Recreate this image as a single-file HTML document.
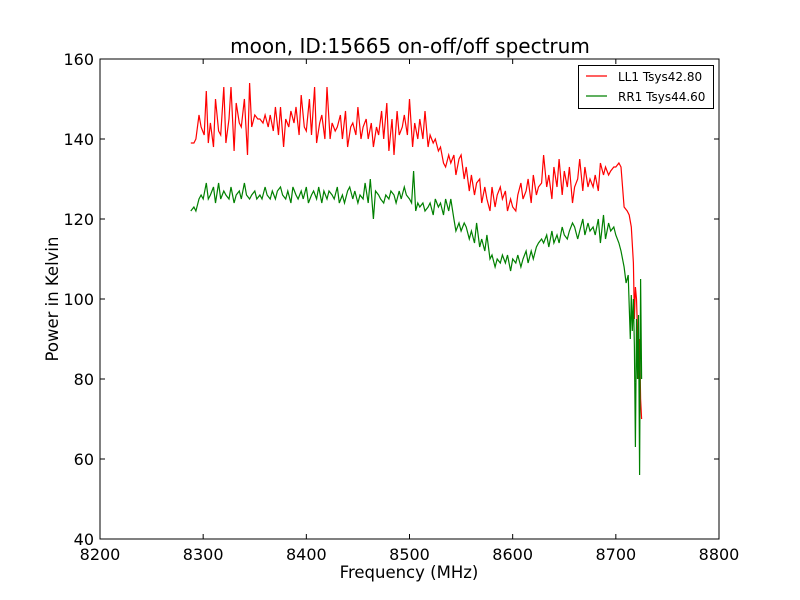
<!DOCTYPE html>
<html><head><meta charset="utf-8"><style>
body{margin:0;background:#fff;}
svg{display:block;font-family:"DejaVu Sans","Liberation Sans",sans-serif;}
</style></head><body>
<svg id="chart" width="800" height="600">
<rect width="800" height="600" fill="#fff"/>
<text x="410" y="53" font-size="20" text-anchor="middle">moon, ID:15665 on-off/off spectrum</text>
<text x="409" y="578" font-size="16.5" text-anchor="middle">Frequency (MHz)</text>
<text transform="translate(58,299) rotate(-90)" font-size="16.5" text-anchor="middle">Power in Kelvin</text>
<g id="ticks"></g>
<g id="series"></g>
<rect x="100" y="59" width="619" height="480" fill="none" stroke="#000" stroke-width="1"/>
<g>
<rect x="578.5" y="65.5" width="135" height="43" fill="#fff" stroke="#000"/>
<line x1="586" y1="76" x2="607" y2="76" stroke="red" stroke-width="1.2"/>
<text x="618" y="81" font-size="12">LL1 Tsys42.80</text>
<line x1="586" y1="96" x2="607" y2="96" stroke="green" stroke-width="1.2"/>
<text x="618" y="101" font-size="12">RR1 Tsys44.60</text>
</g>
</svg>
<script>
const xTicks=[8200,8300,8400,8500,8600,8700,8800];
const yTicks=[40,60,80,100,120,140,160];
const redFreq=[8288,8291,8293,8296,8298,8301,8303,8305,8307,8310,8312,8315,8317,8320,8322,8325,8327,8330,8332,8335,8337,8340,8343,8345,8347,8350,8353,8355,8358,8360,8363,8365,8368,8370,8373,8375,8378,8380,8383,8385,8388,8390,8393,8395,8398,8400,8403,8405,8408,8410,8413,8415,8418,8420,8423,8425,8428,8430,8433,8435,8438,8440,8443,8445,8448,8450,8453,8455,8458,8460,8463,8465,8468,8470,8473,8475,8478,8480,8483,8485,8488,8490,8493,8495,8498,8500,8503,8505,8508,8510,8513,8515,8518,8520,8523,8525,8528,8530,8533,8535,8538,8540,8543,8545,8548,8550,8553,8555,8558,8560,8563,8565,8568,8570,8573,8575,8578,8580,8583,8585,8588,8590,8593,8595,8598,8600,8603,8605,8608,8610,8613,8615,8618,8620,8623,8625,8628,8630,8633,8635,8638,8640,8643,8645,8648,8650,8653,8655,8658,8660,8663,8665,8668,8670,8673,8675,8678,8680,8683,8685,8688,8690,8693,8695,8698,8700,8703,8705,8708,8711,8713,8715,8717,8718,8719,8720,8721,8722,8723,8724,8725];
const redVals=[139,139,140,146,143,141,152,139,144,138,150,142,141,153,139,145,153,137,149,144,143,150,136,154,143,146,145,145,144,146,143,146,142,148,141,148,138,145,143,147,144,148,141,151,143,142,150,141,153,139,144,146,140,153,140,144,142,143,146,140,147,138,143,144,141,148,140,143,145,140,144,138,143,141,147,140,149,137,145,136,147,141,143,146,141,150,138,144,140,145,140,147,138,141,139,140,137,138,134,133,136,134,136,131,135,136,130,133,127,131,126,129,130,124,128,125,122,128,123,126,128,125,127,122,125,123,122,126,129,125,127,130,124,131,126,128,129,136,128,131,125,133,128,135,126,132,128,133,124,128,130,135,127,133,128,130,128,131,127,134,131,133,131,132,133,133,134,133,123,122,121,118,109,95,103,100,92,80,90,75,70];
const greenFreq=[8288,8291,8293,8296,8298,8300,8303,8305,8307,8310,8312,8315,8317,8320,8322,8325,8327,8330,8332,8335,8337,8340,8342,8345,8347,8350,8352,8355,8357,8360,8362,8365,8367,8370,8372,8375,8377,8380,8382,8385,8387,8390,8392,8395,8397,8400,8402,8405,8407,8410,8412,8415,8417,8420,8422,8425,8427,8430,8432,8435,8437,8440,8442,8445,8447,8450,8452,8455,8457,8460,8462,8465,8467,8470,8472,8475,8477,8480,8482,8485,8487,8490,8492,8495,8497,8500,8502,8504,8506,8508,8510,8513,8515,8518,8520,8523,8525,8528,8530,8533,8535,8538,8540,8543,8545,8548,8550,8553,8555,8558,8560,8563,8565,8568,8570,8573,8575,8578,8580,8583,8585,8588,8590,8593,8595,8598,8600,8603,8605,8608,8610,8613,8615,8618,8620,8623,8625,8628,8630,8633,8635,8638,8640,8643,8645,8648,8650,8653,8655,8658,8660,8663,8665,8668,8670,8673,8675,8678,8680,8683,8685,8688,8690,8693,8695,8698,8700,8703,8705,8708,8710,8712,8714,8715,8716,8717,8718,8719,8720,8721,8722,8723,8724,8725,8726];
const greenVals=[122,123,122,125,126,125,129,125,126,128,124,129,125,127,126,125,128,124,126,127,125,129,126,125,126,127,125,126,125,128,126,125,127,125,127,128,126,125,127,124,128,126,125,127,125,128,124,126,127,125,128,124,127,125,127,126,125,128,124,126,124,127,128,125,127,124,126,125,129,124,130,120,127,126,125,124,126,125,127,126,124,127,125,128,126,125,124,132,122,124,123,124,122,123,124,121,125,123,124,121,125,122,125,120,117,119,117,119,118,115,117,114,119,113,115,112,116,110,111,108,110,109,111,109,111,107,110,109,111,108,110,112,109,112,110,113,114,115,114,116,113,117,114,116,114,118,116,115,117,119,118,115,117,120,116,119,117,118,116,120,114,121,115,119,117,118,116,114,112,108,104,106,90,101,92,100,88,63,95,80,96,56,105,80];
const X0=100,X1=719,Y0=539,Y1=59;
const xs=f=>X0+(f-8200)/600*(X1-X0);
const ys=v=>Y0-(v-40)/120*(Y0-Y1);
const NS='http://www.w3.org/2000/svg';
const tg=document.getElementById('ticks');
xTicks.forEach(t=>{
 const x=xs(t);
 [[Y0,Y0-5],[Y1,Y1+5]].forEach(([a,b])=>{const l=document.createElementNS(NS,'line');l.setAttribute('x1',x);l.setAttribute('x2',x);l.setAttribute('y1',a);l.setAttribute('y2',b);l.setAttribute('stroke','#000');
 
 
 tg.appendChild(l);});
 const tx=document.createElementNS(NS,'text');tx.setAttribute('x',x);tx.setAttribute('y',Y0+21);tx.setAttribute('font-size','16');tx.setAttribute('text-anchor','middle');tx.textContent=t;
 
 
 tg.appendChild(tx);
});
yTicks.forEach(t=>{
 const y=ys(t);
 [[X0,X0+5],[X1,X1-5]].forEach(([a,b])=>{const l=document.createElementNS(NS,'line');l.setAttribute('x1',a);l.setAttribute('x2',b);l.setAttribute('y1',y);l.setAttribute('y2',y);l.setAttribute('stroke','#000');
 
 
 tg.appendChild(l);});
 const tx=document.createElementNS(NS,'text');tx.setAttribute('x',X0-6);tx.setAttribute('y',y+6);tx.setAttribute('font-size','16');tx.setAttribute('text-anchor','end');tx.textContent=t;
 
 
 tg.appendChild(tx);
});
const sg=document.getElementById('series');
function draw(fr,vals,color,name){
 const p=document.createElementNS(NS,'polyline');
 p.setAttribute('points',fr.map((f,i)=>xs(f).toFixed(1)+','+ys(vals[i]).toFixed(1)).join(' '));
 p.setAttribute('fill','none');p.setAttribute('stroke',color);p.setAttribute('stroke-width','1.2');
 
 
 sg.appendChild(p);
}
draw(redFreq,redVals,'red','ll1-line');
draw(greenFreq,greenVals,'green','rr1-line');
</script>
</body></html>
